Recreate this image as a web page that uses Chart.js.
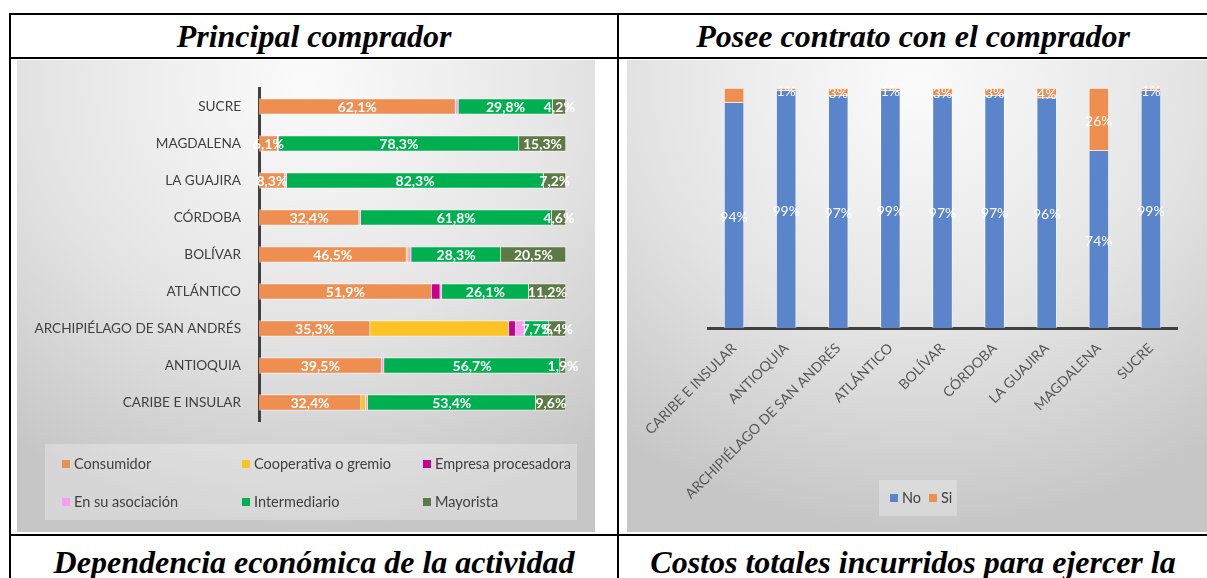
<!DOCTYPE html>
<html>
<head>
<meta charset="utf-8">
<script src="https://cdn.jsdelivr.net/npm/chart.js@4.4.1/dist/chart.umd.min.js"></script>
<style>
  body { margin: 0; width: 1207px; height: 578px; overflow: hidden; background: #fff; position: relative; }
  .ln { position: absolute; background: #000; }
  .title { position: absolute; font: bold italic 32px "Liberation Serif", "Times New Roman", serif; line-height: 36px; text-align: center; color: #000; white-space: nowrap; }
  .panel { position: absolute; background: radial-gradient(ellipse 85% 95% at 50% 5%, #fbfbfb 0%, #e4e4e4 55%, #c6c6c6 100%); }
  canvas { position: absolute; }
  .legend { position: absolute; background: rgba(255,255,255,0.28); font: 14.5px Lato, "Noto Sans", sans-serif; color: #404040; }
  .legend span { position: absolute; white-space: nowrap; line-height: 18px; }
  .legend i { display: inline-block; width: 8px; height: 8px; margin-right: 4px; vertical-align: 1px; }
</style>
</head>
<body>
<div class="ln" style="left:9px;top:13px;width:1198px;height:2px"></div>
<div class="ln" style="left:9px;top:13px;width:2px;height:565px"></div>
<div class="ln" style="left:617px;top:13px;width:2px;height:565px"></div>
<div class="ln" style="left:9px;top:57px;width:1198px;height:2px"></div>
<div class="ln" style="left:9px;top:534px;width:1198px;height:2px"></div>

<div class="title" style="left:11px;width:606px;top:18px">Principal comprador</div>
<div class="title" style="left:619px;width:588px;top:18px">Posee contrato con el comprador</div>
<div class="title" style="left:11px;width:606px;top:544px">Dependencia económica de la actividad</div>
<div class="title" style="left:619px;width:588px;top:544px">Costos totales incurridos para ejercer la</div>

<div class="panel" style="left:17px;top:60px;width:578px;height:472px"></div>
<div class="panel" style="left:627px;top:60px;width:580px;height:472px"></div>

<canvas id="c1" width="578" height="472" style="left:17px;top:60px"></canvas>
<canvas id="c2" width="580" height="472" style="left:627px;top:60px"></canvas>

<div class="legend" id="lg1" style="left:45px;top:444px;width:532px;height:76px"></div>
<div class="legend" id="lg2" style="left:879px;top:480px;width:78px;height:36px"></div>

<script>
// Principal comprador (top to bottom as drawn)
const regions = ["SUCRE", "MAGDALENA", "LA GUAJIRA", "CÓRDOBA", "BOLÍVAR", "ATLÁNTICO", "ARCHIPIÉLAGO DE SAN ANDRÉS", "ANTIOQUIA", "CARIBE E INSULAR"];
const consumidor    = [62.1, 6.1, 8.3, 32.4, 46.5, 51.9, 35.3, 39.5, 32.4];
const cooperativa   = [0, 0, 0, 0, 0.5, 0, 44.1, 0, 1.5];
const empresa       = [0, 0, 0, 0, 0, 2.6, 2.1, 0, 0];
const asociacion    = [0.9, 0.3, 0.6, 0.5, 1.0, 0.5, 2.9, 0.8, 0.6];
const intermediario = [29.8, 78.3, 82.3, 61.8, 28.3, 26.1, 7.7, 56.7, 53.4];
const mayorista     = [4.2, 15.3, 7.2, 4.6, 20.5, 11.2, 5.4, 1.9, 9.6];

// Posee contrato con el comprador
const regionsCol = ["CARIBE E INSULAR", "ANTIOQUIA", "ARCHIPIÉLAGO DE SAN ANDRÉS", "ATLÁNTICO", "BOLÍVAR", "CÓRDOBA", "LA GUAJIRA", "MAGDALENA", "SUCRE"];
const contratoNo = [94, 99, 97, 99, 97, 97, 96, 74, 99];
const contratoSi = [6, 1, 3, 1, 3, 3, 4, 26, 1];

const FONT = 'Lato, "Noto Sans", sans-serif';

// white labels centred in each stacked segment
const segmentLabels = {
  id: "segmentLabels",
  afterDatasetsDraw(chart, args, opts) {
    const ctx = chart.ctx;
    const horiz = chart.options.indexAxis === "y";
    ctx.save();
    ctx.fillStyle = "#fff";
    ctx.font = opts.font;
    ctx.textAlign = "center";
    ctx.textBaseline = "middle";
    chart.data.datasets.forEach((ds, i) => {
      if (!ds.segLabels) return;
      chart.getDatasetMeta(i).data.forEach((bar, j) => {
        const t = ds.segLabels[j];
        if (!t) return;
        const p = bar.getProps(["x", "y", "base"], true);
        ctx.fillText(t, horiz ? (p.x + p.base) / 2 : p.x, horiz ? p.y + 1 : (p.y + p.base) / 2 + 2);
      });
    });
    ctx.restore();
  }
};

const pct = v => v.toFixed(1).replace(".", ",") + "%";
const totals = regions.map((_, i) => consumidor[i] + cooperativa[i] + empresa[i] + asociacion[i] + intermediario[i] + mayorista[i]);
const share = arr => arr.map((v, i) => v / totals[i] * 100);

const series1 = [
  { label: "Consumidor", data: consumidor, color: "#EE8E50", show: true },
  { label: "Cooperativa o gremio", data: cooperativa, color: "#FCC324", show: false },
  { label: "Empresa procesadora", data: empresa, color: "#C8008E", show: false },
  { label: "En su asociación", data: asociacion, color: "#F99CF2", show: false },
  { label: "Intermediario", data: intermediario, color: "#00B050", show: true },
  { label: "Mayorista", data: mayorista, color: "#5C7946", show: true }
];

new Chart(document.getElementById("c1"), {
  type: "bar",
  data: {
    labels: regions,
    datasets: series1.map(s => ({
      label: s.label,
      data: share(s.data),
      backgroundColor: s.color,
      borderColor: "rgba(255,255,255,0.55)",
      borderWidth: 1,
      barThickness: 16,
      segLabels: s.show ? s.data.map(pct) : null
    }))
  },
  options: {
    indexAxis: "y",
    responsive: false,
    animation: false,
    layout: { padding: { top: 28, right: 29, bottom: 111, left: 0 } },
    plugins: {
      legend: { display: false },
      tooltip: { enabled: false },
      segmentLabels: { font: "bold 14px " + FONT }
    },
    scales: {
      x: { stacked: true, min: 0, max: 100, display: false },
      y: {
        stacked: true,
        grid: { display: false },
        border: { color: "#404040", width: 3 },
        ticks: { color: "#404040", font: { family: FONT, size: 13.6 }, padding: 10 },
        afterFit(s) { s.width = 242; }
      }
    }
  },
  plugins: [segmentLabels]
});

new Chart(document.getElementById("c2"), {
  type: "bar",
  data: {
    labels: regionsCol,
    datasets: [
      { label: "No", data: contratoNo, backgroundColor: "#5B85CB", borderColor: "rgba(255,255,255,0.55)", borderWidth: 1, barThickness: 20,
        segLabels: contratoNo.map(v => v + "%") },
      { label: "Si", data: contratoSi, backgroundColor: "#EE8E50", borderColor: "rgba(255,255,255,0.55)", borderWidth: 1, barThickness: 20,
        segLabels: contratoSi.map((v, i) => i === 0 ? "" : v + "%") }
    ]
  },
  options: {
    responsive: false,
    animation: false,
    layout: { padding: { top: 28, right: 30, bottom: 0, left: 81 } },
    plugins: {
      legend: { display: false },
      tooltip: { enabled: false },
      segmentLabels: { font: "14px " + FONT }
    },
    scales: {
      x: {
        stacked: true,
        grid: { display: false },
        border: { color: "#404040", width: 3 },
        ticks: { color: "#595959", font: { family: FONT, size: 14 }, minRotation: 45, maxRotation: 45, padding: 4 },
        afterFit(s) { s.height = 204; }
      },
      y: { stacked: true, min: 0, max: 100, display: false }
    }
  },
  plugins: [segmentLabels]
});

// HTML legends
const lg1 = document.getElementById("lg1");
const cols = [17, 197, 378], rows = [11, 49];
series1.forEach((s, i) => {
  const el = document.createElement("span");
  el.style.left = cols[i % 3] + "px";
  el.style.top = rows[Math.floor(i / 3)] + "px";
  el.innerHTML = '<i style="background:' + s.color + '"></i>' + s.label;
  lg1.appendChild(el);
});
const lg2 = document.getElementById("lg2");
[["No", "#5B85CB", 11], ["Si", "#EE8E50", 50]].forEach(([t, c, x]) => {
  const el = document.createElement("span");
  el.style.left = x + "px";
  el.style.top = "9px";
  el.innerHTML = '<i style="background:' + c + '"></i>' + t;
  lg2.appendChild(el);
});
</script>
</body>
</html>
